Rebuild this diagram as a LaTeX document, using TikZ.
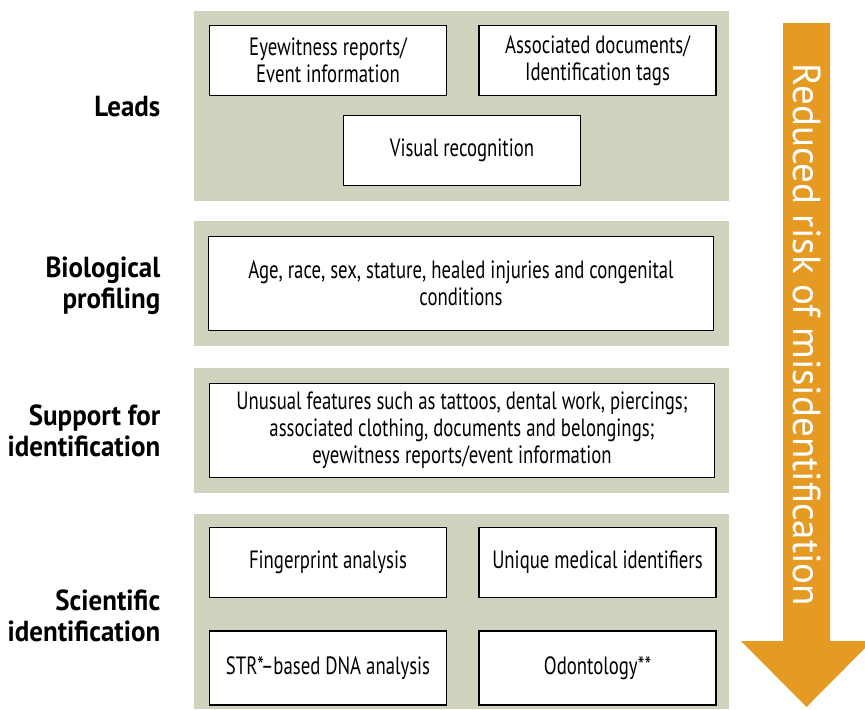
\documentclass[tikz,border=0pt]{standalone}
\usepackage{fontspec}
\setmainfont{PT Sans}
\newfontfamily\boxfont[FakeStretch=0.75]{PT Sans}
\newfontfamily\labelfont[FakeStretch=0.93]{PT Sans}
\usetikzlibrary{positioning}
\definecolor{panelgreen}{RGB}{205,211,188}
\definecolor{arroworange}{RGB}{229,154,35}

\begin{document}
\begin{tikzpicture}[
                x = 0.5pt, y = -0.5pt, % one unit per pixel of the reference
                line width = 0.7pt % box outlines
            ]

            \tikzstyle{panel}=[fill = panelgreen, inner sep = 0pt,
            minimum width = 267.5pt]
            \tikzstyle{item}=[draw = black, fill = white, inner sep = 2pt,
            align = center, font = \boxfont\fontsize{12.5}{13.5}\selectfont]
            \tikzstyle{half}=[item, minimum width = 118.5pt, minimum height = 35pt]
            \tikzstyle{wide}=[item, minimum width = 252.5pt, minimum height = 47pt]
            \tikzstyle{level}=[anchor = east, align = right, inner sep = 0pt,
            font = \labelfont\bfseries\fontsize{14.5}{15.5}\selectfont]

            \useasboundingbox (0,0) rectangle (865,709);

            % green bands
            \node (leadsbg) [panel, minimum height = 95pt] at (461.5,106) {};
            \node (biobg) [panel, minimum height = 62.5pt] at (461.5,283.5) {};
            \node (suppbg) [panel, minimum height = 62.5pt] at (461.5,430.5) {};
            \node (scibg) [panel, minimum height = 97.5pt] at (461.5,611.5) {};

            % row names
            \node (leads) [level] at (161,107) {Leads};
            \node (bio) [level] at (161,286) {Biological\\profiling};
            \node (supp) [level] at (161,431) {Support for\\identification};
            \node (sci) [level] at (161,616) {Scientific\\identification};

            % boxes
            \node (eyewit) [half] at (328,60.5) {Eyewitness reports/\\Event
            information}; \node (assoc) [half] at (597.5,60.5) {Associated
            documents/\\Identification tags}; \node (visual) [half] at
            (462,150.5) {Visual recognition};

            \node (profile) [wide] at (461,283.5) {Age, race, sex, stature,
            healed injuries and congenital\\conditions};

            \node (unusual) [wide] at (462,430.5) {Unusual features such as
            tattoos, dental work, piercings;\\associated clothing, documents
            and belongings;\\eyewitness reports/event information};

            \node (finger) [half] at (328,562.5) {Fingerprint analysis};
            \node (medical) [half] at (597.5,562.5) {Unique medical
            identifiers}; \node (dna) [half, minimum height = 37pt] at
            (328,668) {STR*–based DNA analysis}; \node (odonto) [half,
            minimum height = 37pt] at (597.5,668) {Odontology**};

            % big arrow
            \fill[arroworange] (783,23) -- (830,23) -- (830,641) -- (872,641)
            -- (806.5,707) -- (741,641) -- (783,641) -- cycle;
            \node (risk) [rotate = -90, text = white, inner sep = 0pt,
            font = \fontsize{19.5}{22}\selectfont] at (807,335) {Reduced risk
            of misidentification};

        \end{tikzpicture}
\end{document}
